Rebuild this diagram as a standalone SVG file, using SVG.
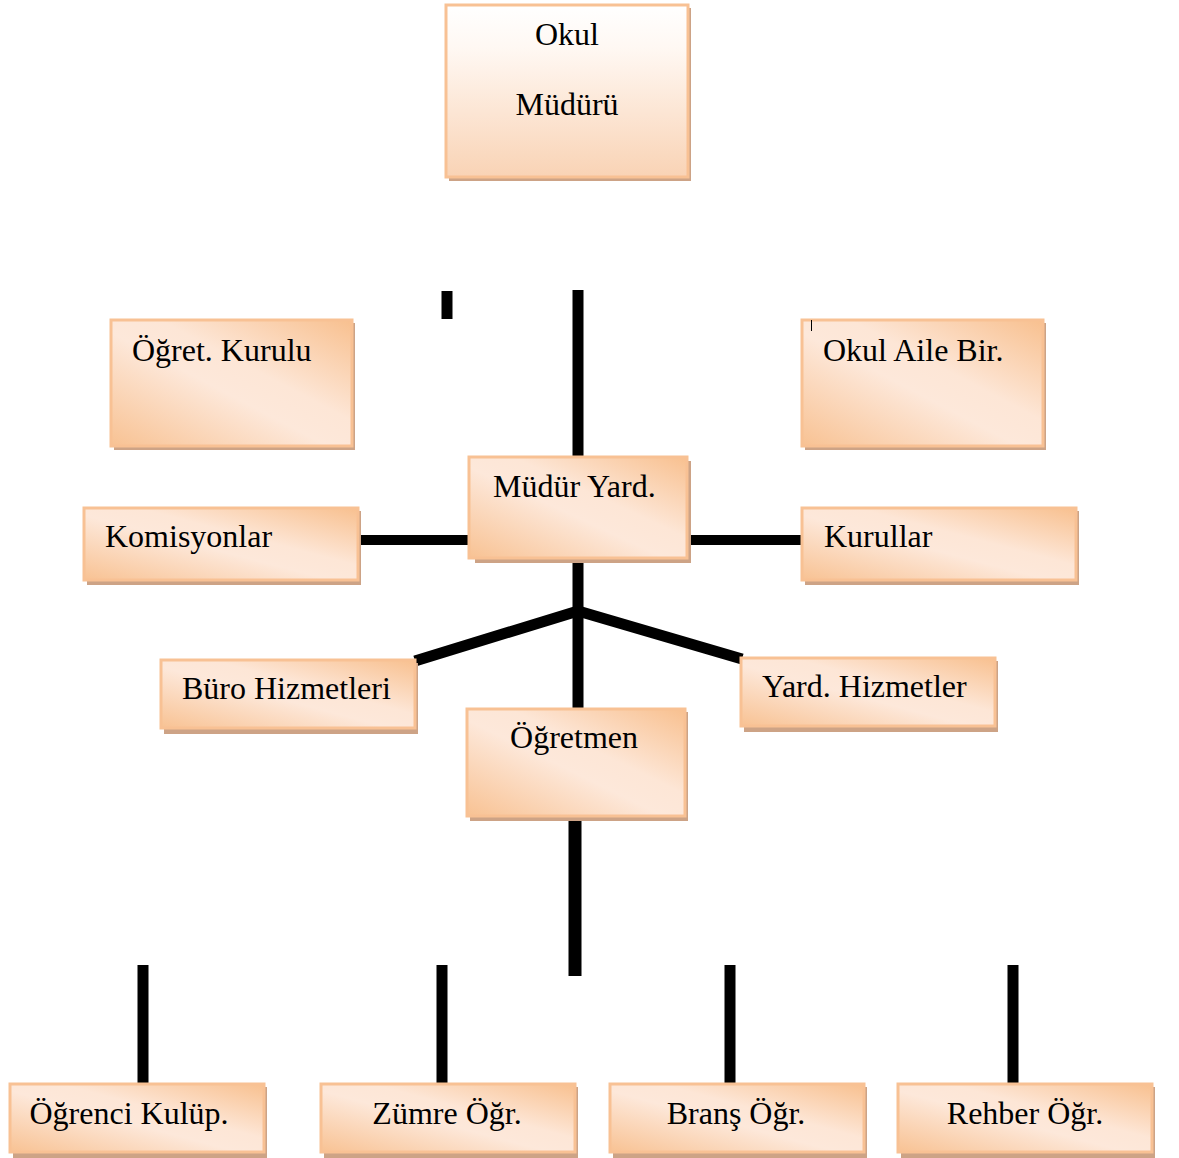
<svg xmlns="http://www.w3.org/2000/svg" width="1179" height="1158" viewBox="0 0 1179 1158">
<defs>
<linearGradient id="g" x1="0" y1="1" x2="1" y2="0">
<stop offset="0" stop-color="#f8c293"/>
<stop offset="0.45" stop-color="#fde8da"/>
<stop offset="0.6" stop-color="#fde6d6"/>
<stop offset="1" stop-color="#f8c08f"/>
</linearGradient>
<linearGradient id="gt" x1="0" y1="0" x2="0" y2="1">
<stop offset="0" stop-color="#ffffff"/>
<stop offset="0.25" stop-color="#fff8f3"/>
<stop offset="1" stop-color="#f9d3b5"/>
</linearGradient>
</defs>
<style>
.sh{fill:#cda386}
.bx{fill:url(#g);stroke:#f8c194;stroke-width:3}
.bt{fill:url(#gt);stroke:#f8c194;stroke-width:3}
text{font-family:"Liberation Serif","Times New Roman",serif;font-size:32px;fill:#000}
.ln{stroke:#000;fill:none}
</style>
<rect width="1179" height="1158" fill="#fff"/>
<g id="connectors">
<line class="ln" x1="578" y1="290" x2="578" y2="458" stroke-width="11"/>
<line class="ln" x1="447" y1="291" x2="447" y2="319" stroke-width="11"/>
<line class="ln" x1="358" y1="540" x2="472" y2="540" stroke-width="10"/>
<line class="ln" x1="688" y1="540" x2="804" y2="540" stroke-width="10"/>
<line class="ln" x1="578" y1="558" x2="578" y2="708" stroke-width="11"/>
<polyline class="ln" points="415,661 578,611 742,659" stroke-width="11" stroke-linejoin="miter"/>
<line class="ln" x1="575" y1="816" x2="575" y2="976" stroke-width="13"/>
<line class="ln" x1="143" y1="965" x2="143" y2="1084" stroke-width="11"/>
<line class="ln" x1="442" y1="965" x2="442" y2="1084" stroke-width="11"/>
<line class="ln" x1="730" y1="965" x2="730" y2="1084" stroke-width="11"/>
<line class="ln" x1="1013" y1="965" x2="1013" y2="1084" stroke-width="11"/>
</g>
<g id="okul-muduru">
<rect class="sh" x="449" y="8" width="242" height="173"/>
<rect class="bt" x="446" y="5" width="242" height="172"/>
<text x="567" y="45" text-anchor="middle">Okul</text>
<text x="567" y="115" text-anchor="middle">Müdürü</text>
</g>
<g id="ogret-kurulu">
<rect class="sh" x="114" y="323" width="241" height="127"/>
<rect class="bx" x="111" y="320" width="241" height="126"/>
<text x="132" y="361">Öğret. Kurulu</text>
</g>
<g id="okul-aile">
<rect class="sh" x="805" y="323" width="241" height="127"/>
<rect class="bx" x="802" y="320" width="241" height="126"/>
<line x1="811.5" y1="320" x2="811.5" y2="331" stroke="#000" stroke-width="1"/>
<text x="823" y="361">Okul Aile Bir.</text>
</g>
<g id="mudur-yard">
<rect class="sh" x="475" y="461" width="216" height="102"/>
<rect class="bx" x="469" y="457" width="218" height="101"/>
<text x="493" y="497">Müdür Yard.</text>
</g>
<g id="komisyonlar">
<rect class="sh" x="87" y="511" width="274" height="74"/>
<rect class="bx" x="84" y="508" width="274" height="72"/>
<text x="105" y="547">Komisyonlar</text>
</g>
<g id="kurullar">
<rect class="sh" x="805" y="511" width="274" height="74"/>
<rect class="bx" x="802" y="508" width="274" height="72"/>
<text x="824" y="547">Kurullar</text>
</g>
<g id="buro">
<rect class="sh" x="164" y="663" width="254" height="71"/>
<rect class="bx" x="161" y="660" width="254" height="68"/>
<text x="182" y="699">Büro Hizmetleri</text>
</g>
<g id="yard-hizmet">
<rect class="sh" x="744" y="661" width="254" height="71"/>
<rect class="bx" x="741" y="658" width="254" height="68"/>
<text x="762" y="697">Yard. Hizmetler</text>
</g>
<g id="ogretmen">
<rect class="sh" x="470" y="712" width="218" height="109"/>
<rect class="bx" x="467" y="709" width="218" height="107"/>
<text x="574" y="748" text-anchor="middle">Öğretmen</text>
</g>
<g id="ogrenci-kulup">
<rect class="sh" x="13" y="1087" width="254" height="71"/>
<rect class="bx" x="10" y="1084" width="254" height="68"/>
<text x="129" y="1124" text-anchor="middle">Öğrenci Kulüp.</text>
</g>
<g id="zumre">
<rect class="sh" x="324" y="1087" width="254" height="71"/>
<rect class="bx" x="321" y="1084" width="254" height="68"/>
<text x="447" y="1124" text-anchor="middle">Zümre Öğr.</text>
</g>
<g id="brans">
<rect class="sh" x="613" y="1087" width="254" height="71"/>
<rect class="bx" x="610" y="1084" width="254" height="68"/>
<text x="736" y="1124" text-anchor="middle">Branş Öğr.</text>
</g>
<g id="rehber">
<rect class="sh" x="901" y="1087" width="254" height="71"/>
<rect class="bx" x="898" y="1084" width="254" height="68"/>
<text x="1025" y="1124" text-anchor="middle">Rehber Öğr.</text>
</g>
</svg>
